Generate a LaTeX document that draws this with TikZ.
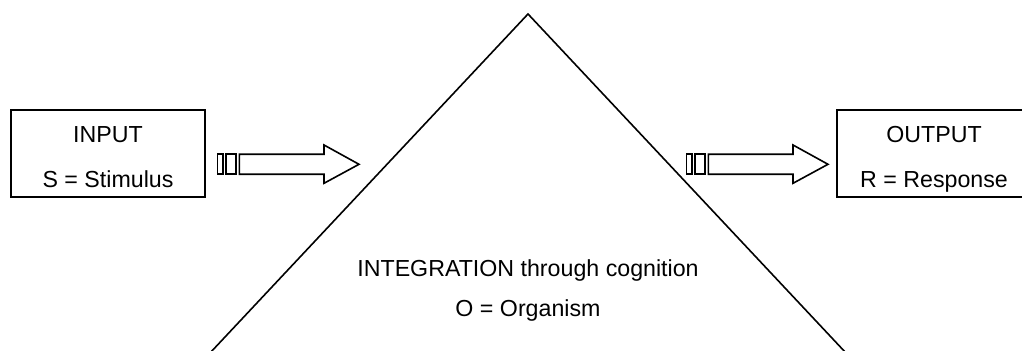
\documentclass[tikz,border=0pt]{standalone}
\usepackage{fontspec}
\setmainfont{Liberation Sans}
\usepackage{tikz}
\usetikzlibrary{positioning, calc}

\tikzset{
    box/.style={draw, line width=0.8pt, minimum width=97pt, minimum height=43.5pt, inner sep=0pt},
    label/.style={anchor=base, inner sep=0pt, font=\fontsize{11.6}{14}\selectfont},
    block/.style={draw, line width=0.8pt, fill=white}
}

\begin{document}
\begin{tikzpicture}[x=0.5pt, y=-0.5pt]
    \useasboundingbox (0, 0) rectangle (1022, 351);
    \clip (0, 0) rectangle (1022, 351);
    % Organism
    \draw[line width=0.8pt] (210, 353) -- (528, 14) -- (846, 353);
    \node[label] (integration) at (528, 276.7) {INTEGRATION through cognition};
    \node[label] (organism) at (528, 316.7) {O = Organism};
    % Input
    \node[box] (input) at (108, 153.5) {};
    \node[label] (inputtitle) at (108, 143) {INPUT};
    \node[label] (stimulus) at (108, 188) {S = Stimulus};
    % Output
    \node[box] (output) at (934, 153.5) {};
    \node[label] (outputtitle) at (934, 143) {OUTPUT};
    \node[label] (response) at (934, 188) {R = Response};
    % Arrow in
    \draw[block] (217.3, 154.3) rectangle (222.7, 174.3);
    \draw[block] (226, 154.3) rectangle (236, 174.3);
    \draw[block] (239.3, 154.3) -- (324, 154.3) -- (324, 145) -- (359, 164.3)
        -- (324, 183.3) -- (324, 174.3) -- (239.3, 174.3) -- cycle;
    % Arrow out
    \draw[block] (686.3, 154.3) rectangle (691.7, 174.3);
    \draw[block] (695, 154.3) rectangle (705, 174.3);
    \draw[block] (708.3, 154.3) -- (793, 154.3) -- (793, 145) -- (828, 164.3)
        -- (793, 183.3) -- (793, 174.3) -- (708.3, 174.3) -- cycle;
\end{tikzpicture}
\end{document}
